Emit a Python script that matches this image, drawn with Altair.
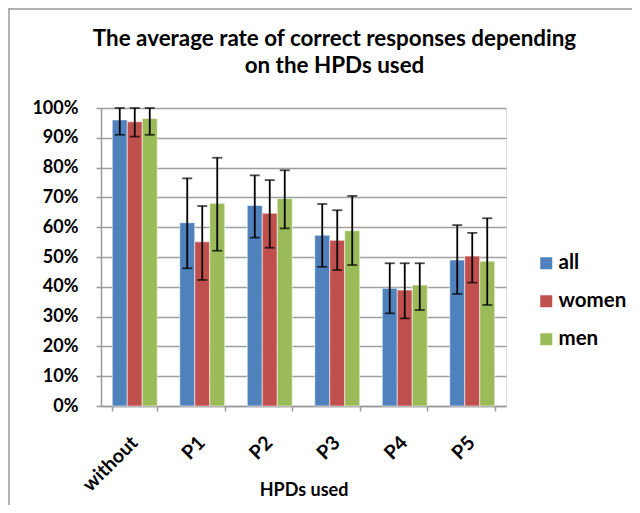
import altair as alt
import pandas as pd

categories = ["without", "P1", "P2", "P3", "P4", "P5"]
series = ["all", "women", "men"]
colors = ["#4F81BD", "#C0504D", "#9BBB59"]

all_vals = [0.96, 0.615, 0.673, 0.573, 0.395, 0.49]
all_lo = [0.91, 0.462, 0.565, 0.467, 0.311, 0.376]
all_hi = [1.00, 0.764, 0.774, 0.678, 0.479, 0.607]

women_vals = [0.954, 0.551, 0.647, 0.556, 0.389, 0.503]
women_lo = [0.904, 0.423, 0.531, 0.456, 0.294, 0.414]
women_hi = [1.00, 0.671, 0.758, 0.657, 0.479, 0.581]

men_vals = [0.965, 0.68, 0.696, 0.588, 0.406, 0.486]
men_lo = [0.91, 0.521, 0.596, 0.473, 0.322, 0.339]
men_hi = [1.00, 0.833, 0.791, 0.705, 0.479, 0.63]

y_ticks = [0.0, 0.1, 0.2, 0.3, 0.4, 0.5, 0.6, 0.7, 0.8, 0.9, 1.0]

rows = []
for s, v, lo, hi in [("all", all_vals, all_lo, all_hi),
                     ("women", women_vals, women_lo, women_hi),
                     ("men", men_vals, men_lo, men_hi)]:
    for c, a, b, d in zip(categories, v, lo, hi):
        rows.append({"cat": c, "series": s, "value": a, "lo": b, "hi": d})
df = pd.DataFrame(rows)

FONT = "Lato"
FS = 18

x_axis = alt.Axis(title="HPDs used", labelAngle=-45, tickBand="extent",
                  labelFontSize=19.5, labelFontWeight="bold", labelFont=FONT,
                  labelColor="black", labelAlign="right", labelBaseline="top",
                  labelOffset=-7, labelPadding=22,
                  titleFontSize=FS, titleFont=FONT,
                  titleFontWeight="bold", titleColor="black", titleY=75,
                  domainColor="#999999", domainWidth=1.5, tickColor="#999999",
                  tickWidth=1.5, tickSize=5, grid=False)
y_axis = alt.Axis(title=None, format=".0%", values=y_ticks,
                  labelFontSize=FS, labelFontWeight="bold", labelFont=FONT,
                  labelColor="black", labelPadding=18,
                  gridColor="#A0A0A0", gridWidth=1.5,
                  domainColor="#999999", domainWidth=1.5,
                  tickColor="#999999", tickWidth=1.5, tickSize=5)
y_scale = alt.Scale(domain=[0, 1], nice=False)

x = alt.X("cat:N", sort=categories,
          scale=alt.Scale(paddingInner=1/3, paddingOuter=1/6), axis=x_axis)
xo = alt.XOffset("series:N", sort=series, scale=alt.Scale(paddingInner=0))

base = alt.Chart(df)

bars = base.mark_bar(stroke="#ffffff", strokeWidth=0.8, strokeOpacity=0.7).encode(
    x=x, xOffset=xo,
    y=alt.Y("value:Q", scale=y_scale, axis=y_axis),
    color=alt.Color("series:N", sort=series,
                    scale=alt.Scale(domain=series, range=colors),
                    legend=alt.Legend(title=None, orient="none", legendX=435, legendY=145,
                                      symbolType="square", symbolSize=144,
                                      symbolStrokeWidth=0,
                                      labelFontSize=20.5, labelFontWeight="bold",
                                      labelFont=FONT, labelColor="black",
                                      rowPadding=17, labelOffset=2)),
)

err = base.mark_rule(color="black", strokeWidth=1.8).encode(
    x=x, xOffset=xo, y=alt.Y("lo:Q", scale=y_scale, axis=y_axis), y2="hi:Q")
cap_lo = base.mark_tick(color="black", size=10, thickness=1.8).encode(
    x=x, xOffset=xo, y=alt.Y("lo:Q", scale=y_scale, axis=y_axis))
cap_hi = base.mark_tick(color="black", size=10, thickness=1.8).encode(
    x=x, xOffset=xo, y=alt.Y("hi:Q", scale=y_scale, axis=y_axis))

frame_left = alt.Chart(pd.DataFrame({"a": [0]})).mark_rule(color="#999999", strokeWidth=1.5).encode(
    x=alt.value(-92), y=alt.value(-100), y2=alt.value(420))
frame_top = alt.Chart(pd.DataFrame({"a": [0]})).mark_rule(color="#999999", strokeWidth=1.5).encode(
    x=alt.value(-92), x2=alt.value(540), y=alt.value(-99))

chart = alt.layer(bars, err, cap_lo, cap_hi, frame_left, frame_top).properties(
    width=405, height=298,
    title=alt.TitleParams(
        text=["The average rate of correct responses depending", "on the HPDs used"],
        font=FONT, fontSize=22.4, fontWeight="bold", color="black",
        anchor="middle", frame="group", dx=31, offset=-70, lineHeight=27),
    autosize=alt.AutoSizeParams(type="none"),
    padding={"left": 93, "top": 100, "right": 126, "bottom": 99},
).configure_view(stroke=None).configure(background="white")

chart.save("out.html", embed_options={"renderer": "svg", "actions": False})
